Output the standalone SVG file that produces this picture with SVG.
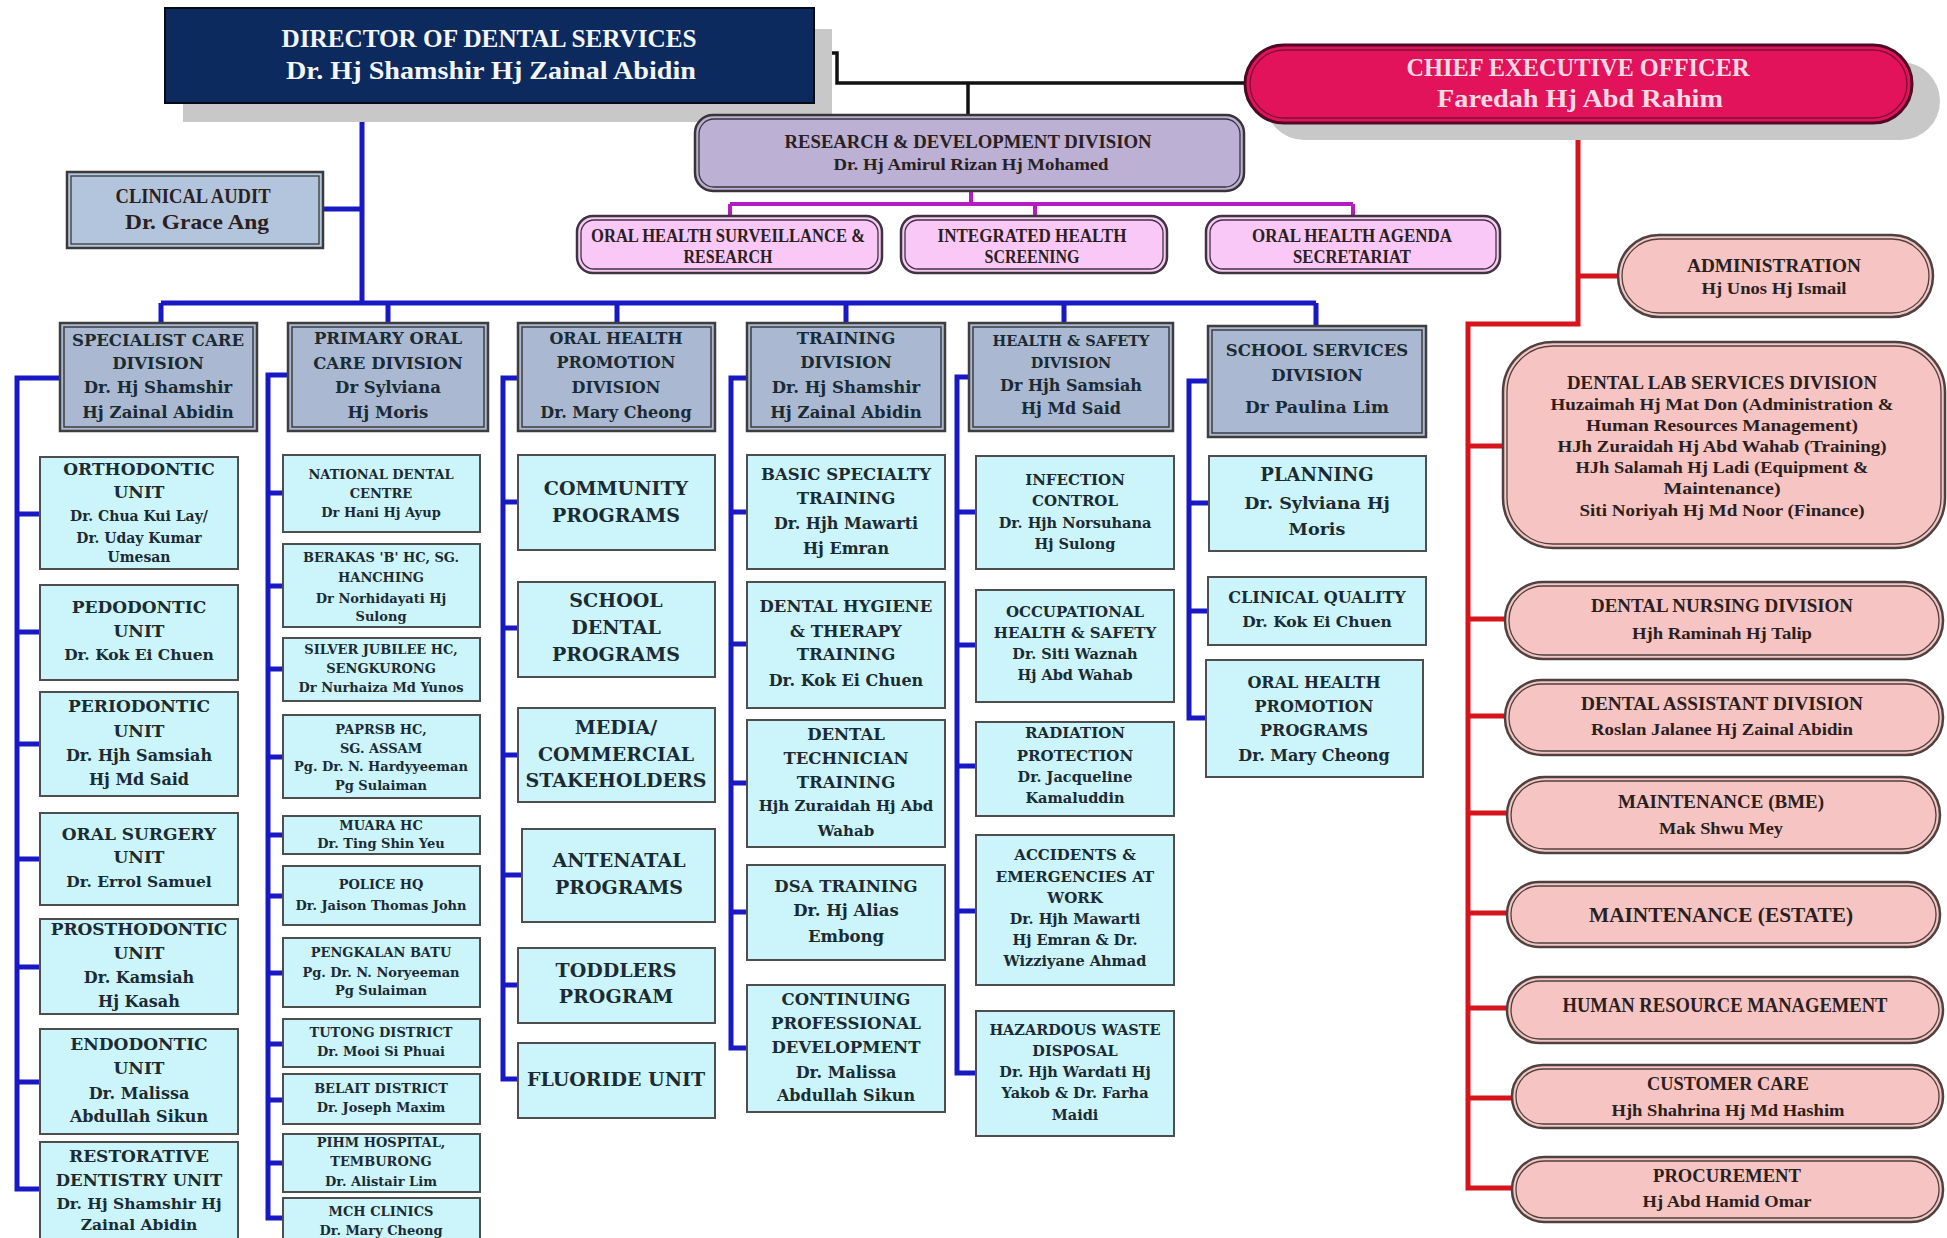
<svg xmlns="http://www.w3.org/2000/svg" width="1947" height="1238" viewBox="0 0 1947 1238">
<style>
.blue{stroke:#1818c4;stroke-width:5;fill:none}
.red{stroke:#d6141c;stroke-width:5;fill:none}
.mag{stroke:#b21cc0;stroke-width:4;fill:none}
.blk{stroke:#111;stroke-width:3.5;fill:none}
.dv{fill:#aab9d1;stroke:#3e3e3e;stroke-width:2.5}
.dvi{fill:none;stroke:#3e3e3e;stroke-width:1.5}
.u{fill:#ccf5fb;stroke:#4e4e4e;stroke-width:2}
.pk{fill:#f6c5c3;stroke:#4e4240;stroke-width:2.5}
.pki{fill:none;stroke:#4e4240;stroke-width:1.3}
.pm{fill:#f9c8f6;stroke:#3e3440;stroke-width:2.5}
.pmi{fill:none;stroke:#3e3440;stroke-width:1.3}
.sh{fill:#c8c8c8}
text{font-weight:bold;text-anchor:middle}
.t{font-family:"DejaVu Serif",serif;fill:#1b2a33}
.s{font-family:"Liberation Serif","Times New Roman",serif;fill:#2a2020}
.w{font-family:"Liberation Serif","Times New Roman",serif;fill:#f4f6fa}
.cw{font-family:"Liberation Serif","Times New Roman",serif;fill:#fcdbe4}
</style>
<rect width="1947" height="1238" fill="#ffffff"/>

<g id="connectors">
  <path class="blk" d="M814,53 H837 V83 H1245 M968,83 V115"/>
  <path class="blue" d="M362,103 V303 M323,209 H362 M161,303 H1316 M161,303 V323 M388,303 V323 M617,303 V323 M846,303 V323 M1064,303 V323 M1316,303 V326"/>
  <path class="mag" d="M971,191 V204 M730,204 H1353 M730,204 V216 M1035,204 V216 M1353,204 V216"/>
  <path class="blue" d="M60,378 H17 V1189 H40 M17,514 H40 M17,632 H40 M17,744 H40 M17,859 H40 M17,967 H40 M17,1082 H40"/>
  <path class="blue" d="M288,375 H268 V1218 H283 M268,493 H283 M268,586 H283 M268,669 H283 M268,757 H283 M268,835 H283 M268,896 H283 M268,973 H283 M268,1044 H283 M268,1100 H283 M268,1163 H283"/>
  <path class="blue" d="M518,378 H503 V1079 H518 M503,502 H518 M503,628 H518 M503,755 H518 M503,875 H522 M503,985 H518"/>
  <path class="blue" d="M747,378 H731 V1048 H747 M731,512 H747 M731,644 H747 M731,783 H747 M731,912 H747"/>
  <path class="blue" d="M969,377 H957 V1073 H976 M957,512 H976 M957,645 H976 M957,766 H976 M957,911 H976"/>
  <path class="blue" d="M1208,381 H1189 V718 H1206 M1189,503 H1209 M1189,611 H1208"/>
  <path class="red" d="M1578,123 V324 H1468 V1188 H1512 M1578,276 H1618 M1468,446 H1503 M1468,619 H1505 M1468,716 H1505 M1468,813 H1507 M1468,913 H1507 M1468,1008 H1507 M1468,1098 H1512"/>
</g>

<g id="director">
  <rect class="sh" x="183" y="29" width="649" height="93"/>
  <rect x="165" y="8" width="649" height="95" fill="#0c2a5d" stroke="#050a18" stroke-width="2"/>
  <text class="w" x="489" y="47" font-size="26" textLength="415" lengthAdjust="spacingAndGlyphs">DIRECTOR OF DENTAL SERVICES</text>
  <text class="w" x="491" y="79" font-size="26" textLength="410" lengthAdjust="spacingAndGlyphs">Dr. Hj Shamshir Hj Zainal Abidin</text>
</g>

<g id="ceo">
  <rect class="sh" x="1265" y="62" width="675" height="78" rx="39"/>
  <rect x="1245" y="45" width="667" height="78" rx="39" fill="#e2135a" stroke="#4e0a22" stroke-width="3"/>
  <rect x="1250" y="50" width="657" height="68" rx="34" fill="none" stroke="#7a1236" stroke-width="1.3"/>
  <text class="cw" x="1578" y="76" font-size="26" textLength="343" lengthAdjust="spacingAndGlyphs">CHIEF EXECUTIVE OFFICER</text>
  <text class="cw" x="1580" y="107" font-size="26" textLength="286" lengthAdjust="spacingAndGlyphs">Faredah Hj Abd Rahim</text>
</g>

<g id="clinical-audit">
  <rect x="67" y="172" width="256" height="76" fill="#b3c4dd" stroke="#3a3a3a" stroke-width="2.5"/>
  <rect x="71" y="176" width="248" height="68" fill="none" stroke="#3a3a3a" stroke-width="1.3"/>
  <text class="s" x="193" y="203" font-size="22" textLength="155" lengthAdjust="spacingAndGlyphs" fill="#1b2a33">CLINICAL AUDIT</text>
  <text class="s" x="197" y="229" font-size="22" textLength="144" lengthAdjust="spacingAndGlyphs" fill="#1b2a33">Dr. Grace Ang</text>
</g>

<g id="rnd">
  <rect x="695" y="115" width="549" height="76" rx="18" fill="#bcb0d4" stroke="#383438" stroke-width="2.5"/>
  <rect x="699" y="119" width="541" height="68" rx="15" fill="none" stroke="#383438" stroke-width="1.3"/>
  <text class="s" x="968" y="148" font-size="18" textLength="367" lengthAdjust="spacingAndGlyphs">RESEARCH &amp; DEVELOPMENT DIVISION</text>
  <text class="s" x="971" y="170" font-size="16" textLength="275" lengthAdjust="spacingAndGlyphs">Dr. Hj Amirul Rizan Hj Mohamed</text>
</g>

<g id="oh-surveillance">
  <rect class="pm" x="577" y="216" width="305" height="57" rx="16"/>
  <rect class="pmi" x="581" y="220" width="297" height="49" rx="13"/>
  <text class="s" x="728" y="242" font-size="18" textLength="274" lengthAdjust="spacingAndGlyphs">ORAL HEALTH SURVEILLANCE &amp;</text>
  <text class="s" x="728" y="263" font-size="18" textLength="89" lengthAdjust="spacingAndGlyphs">RESEARCH</text>
</g>
<g id="integrated-screening">
  <rect class="pm" x="901" y="216" width="266" height="57" rx="16"/>
  <rect class="pmi" x="905" y="220" width="258" height="49" rx="13"/>
  <text class="s" x="1032" y="242" font-size="18" textLength="189" lengthAdjust="spacingAndGlyphs">INTEGRATED HEALTH</text>
  <text class="s" x="1032" y="263" font-size="18" textLength="95" lengthAdjust="spacingAndGlyphs">SCREENING</text>
</g>
<g id="oh-agenda">
  <rect class="pm" x="1206" y="216" width="294" height="57" rx="16"/>
  <rect class="pmi" x="1210" y="220" width="286" height="49" rx="13"/>
  <text class="s" x="1352" y="242" font-size="18" textLength="200" lengthAdjust="spacingAndGlyphs">ORAL HEALTH AGENDA</text>
  <text class="s" x="1352" y="263" font-size="18" textLength="118" lengthAdjust="spacingAndGlyphs">SECRETARIAT</text>
</g>

<!-- Division boxes -->
<g id="div-specialist">
  <rect class="dv" x="60" y="323" width="197" height="108"/><rect class="dvi" x="64" y="327" width="189" height="100"/>
  <text class="t" font-size="16.5" x="158" y="346">SPECIALIST CARE</text>
  <text class="t" font-size="16.5" x="158" y="369">DIVISION</text>
  <text class="t" font-size="16.5" x="158" y="393">Dr. Hj Shamshir</text>
  <text class="t" font-size="16.5" x="158" y="418">Hj Zainal Abidin</text>
</g>
<g id="div-primary">
  <rect class="dv" x="288" y="323" width="200" height="108"/><rect class="dvi" x="292" y="327" width="192" height="100"/>
  <text class="t" font-size="16.5" x="388" y="344">PRIMARY ORAL</text>
  <text class="t" font-size="16.5" x="388" y="369">CARE DIVISION</text>
  <text class="t" font-size="16.5" x="388" y="393">Dr Sylviana</text>
  <text class="t" font-size="16.5" x="388" y="418">Hj Moris</text>
</g>
<g id="div-ohp">
  <rect class="dv" x="518" y="323" width="197" height="108"/><rect class="dvi" x="522" y="327" width="189" height="100"/>
  <text class="t" font-size="16" x="616" y="344">ORAL HEALTH</text>
  <text class="t" font-size="16" x="616" y="368">PROMOTION</text>
  <text class="t" font-size="16" x="616" y="393">DIVISION</text>
  <text class="t" font-size="16" x="616" y="418">Dr. Mary Cheong</text>
</g>
<g id="div-training">
  <rect class="dv" x="747" y="323" width="198" height="108"/><rect class="dvi" x="751" y="327" width="190" height="100"/>
  <text class="t" font-size="16.5" x="846" y="344">TRAINING</text>
  <text class="t" font-size="16.5" x="846" y="368">DIVISION</text>
  <text class="t" font-size="16.5" x="846" y="393">Dr. Hj Shamshir</text>
  <text class="t" font-size="16.5" x="846" y="418">Hj Zainal Abidin</text>
</g>
<g id="div-health-safety">
  <rect class="dv" x="969" y="323" width="204" height="108"/><rect class="dvi" x="973" y="327" width="196" height="100"/>
  <text class="t" font-size="14.5" x="1071" y="346">HEALTH &amp; SAFETY</text>
  <text class="t" font-size="14.5" x="1071" y="368">DIVISION</text>
  <text class="t" font-size="16" x="1071" y="391">Dr Hjh Samsiah</text>
  <text class="t" font-size="16" x="1071" y="414">Hj Md Said</text>
</g>
<g id="div-school">
  <rect class="dv" x="1208" y="326" width="218" height="111"/><rect class="dvi" x="1212" y="330" width="210" height="103"/>
  <text class="t" font-size="16.5" x="1317" y="356">SCHOOL SERVICES</text>
  <text class="t" font-size="16.5" x="1317" y="381">DIVISION</text>
  <text class="t" font-size="17" x="1317" y="413">Dr Paulina Lim</text>
</g>

<!-- Specialist units -->
<g id="orthodontic">
  <rect class="u" x="40" y="457" width="198" height="112"/>
  <text class="t" font-size="17" x="139" y="475">ORTHODONTIC</text>
  <text class="t" font-size="17" x="139" y="498">UNIT</text>
  <text class="t" font-size="14" x="139" y="521">Dr. Chua Kui Lay/</text>
  <text class="t" font-size="14" x="139" y="543">Dr. Uday Kumar</text>
  <text class="t" font-size="14" x="139" y="562">Umesan</text>
</g>
<g id="pedodontic">
  <rect class="u" x="40" y="585" width="198" height="95"/>
  <text class="t" font-size="17" x="139" y="613">PEDODONTIC</text>
  <text class="t" font-size="17" x="139" y="637">UNIT</text>
  <text class="t" font-size="15.5" x="139" y="660">Dr. Kok Ei Chuen</text>
</g>
<g id="periodontic">
  <rect class="u" x="40" y="692" width="198" height="104"/>
  <text class="t" font-size="17" x="139" y="712">PERIODONTIC</text>
  <text class="t" font-size="17" x="139" y="737">UNIT</text>
  <text class="t" font-size="16" x="139" y="761">Dr. Hjh Samsiah</text>
  <text class="t" font-size="16" x="139" y="785">Hj Md Said</text>
</g>
<g id="oral-surgery">
  <rect class="u" x="40" y="813" width="198" height="92"/>
  <text class="t" font-size="17" x="139" y="840">ORAL SURGERY</text>
  <text class="t" font-size="17" x="139" y="863">UNIT</text>
  <text class="t" font-size="15.5" x="139" y="887">Dr. Errol Samuel</text>
</g>
<g id="prosthodontic">
  <rect class="u" x="40" y="919" width="198" height="95"/>
  <text class="t" font-size="17" x="139" y="935">PROSTHODONTIC</text>
  <text class="t" font-size="17" x="139" y="959">UNIT</text>
  <text class="t" font-size="16" x="139" y="983">Dr. Kamsiah</text>
  <text class="t" font-size="16" x="139" y="1007">Hj Kasah</text>
</g>
<g id="endodontic">
  <rect class="u" x="40" y="1029" width="198" height="105"/>
  <text class="t" font-size="17" x="139" y="1050">ENDODONTIC</text>
  <text class="t" font-size="17" x="139" y="1074">UNIT</text>
  <text class="t" font-size="16" x="139" y="1099">Dr. Malissa</text>
  <text class="t" font-size="16" x="139" y="1122">Abdullah Sikun</text>
</g>
<g id="restorative">
  <rect class="u" x="40" y="1142" width="198" height="102"/>
  <text class="t" font-size="17" x="139" y="1162">RESTORATIVE</text>
  <text class="t" font-size="16.5" x="139" y="1186">DENTISTRY UNIT</text>
  <text class="t" font-size="15.5" x="139" y="1209">Dr. Hj Shamshir Hj</text>
  <text class="t" font-size="15.5" x="139" y="1230">Zainal Abidin</text>
</g>

<!-- Primary units -->
<g id="national-dental-centre">
  <rect class="u" x="283" y="455" width="197" height="77"/>
  <text class="t" font-size="13" x="381" y="479">NATIONAL DENTAL</text>
  <text class="t" font-size="13" x="381" y="498">CENTRE</text>
  <text class="t" font-size="13" x="381" y="517">Dr Hani Hj Ayup</text>
</g>
<g id="berakas">
  <rect class="u" x="283" y="544" width="197" height="83"/>
  <text class="t" font-size="13" x="381" y="562">BERAKAS 'B' HC, SG.</text>
  <text class="t" font-size="13" x="381" y="582">HANCHING</text>
  <text class="t" font-size="13" x="381" y="603">Dr Norhidayati Hj</text>
  <text class="t" font-size="13" x="381" y="621">Sulong</text>
</g>
<g id="silver-jubilee">
  <rect class="u" x="283" y="638" width="197" height="63"/>
  <text class="t" font-size="13" x="381" y="654">SILVER JUBILEE HC,</text>
  <text class="t" font-size="13" x="381" y="673">SENGKURONG</text>
  <text class="t" font-size="13" x="381" y="692">Dr Nurhaiza Md Yunos</text>
</g>
<g id="paprsb">
  <rect class="u" x="283" y="715" width="197" height="83"/>
  <text class="t" font-size="13" x="381" y="734">PAPRSB HC,</text>
  <text class="t" font-size="13" x="381" y="753">SG. ASSAM</text>
  <text class="t" font-size="13" x="381" y="771">Pg. Dr. N. Hardyyeeman</text>
  <text class="t" font-size="13" x="381" y="790">Pg Sulaiman</text>
</g>
<g id="muara">
  <rect class="u" x="283" y="816" width="197" height="38"/>
  <text class="t" font-size="13" x="381" y="830">MUARA HC</text>
  <text class="t" font-size="13" x="381" y="848">Dr. Ting Shin Yeu</text>
</g>
<g id="police-hq">
  <rect class="u" x="283" y="866" width="197" height="59"/>
  <text class="t" font-size="13" x="381" y="889">POLICE HQ</text>
  <text class="t" font-size="13" x="381" y="910">Dr. Jaison Thomas John</text>
</g>
<g id="pengkalan-batu">
  <rect class="u" x="283" y="938" width="197" height="69"/>
  <text class="t" font-size="13" x="381" y="957">PENGKALAN BATU</text>
  <text class="t" font-size="13" x="381" y="977">Pg. Dr. N. Noryeeman</text>
  <text class="t" font-size="13" x="381" y="995">Pg Sulaiman</text>
</g>
<g id="tutong">
  <rect class="u" x="283" y="1019" width="197" height="48"/>
  <text class="t" font-size="13" x="381" y="1037">TUTONG DISTRICT</text>
  <text class="t" font-size="13" x="381" y="1056">Dr. Mooi Si Phuai</text>
</g>
<g id="belait">
  <rect class="u" x="283" y="1074" width="197" height="50"/>
  <text class="t" font-size="13" x="381" y="1093">BELAIT DISTRICT</text>
  <text class="t" font-size="13" x="381" y="1112">Dr. Joseph Maxim</text>
</g>
<g id="pihm">
  <rect class="u" x="283" y="1134" width="197" height="58"/>
  <text class="t" font-size="13" x="381" y="1147">PIHM HOSPITAL,</text>
  <text class="t" font-size="13" x="381" y="1166">TEMBURONG</text>
  <text class="t" font-size="13" x="381" y="1186">Dr. Alistair Lim</text>
</g>
<g id="mch-clinics">
  <rect class="u" x="283" y="1198" width="197" height="48"/>
  <text class="t" font-size="13" x="381" y="1216">MCH CLINICS</text>
  <text class="t" font-size="13" x="381" y="1235">Dr. Mary Cheong</text>
</g>

<!-- OHP units -->
<g id="community">
  <rect class="u" x="518" y="455" width="197" height="95"/>
  <text class="t" font-size="19" x="616" y="495">COMMUNITY</text>
  <text class="t" font-size="19" x="616" y="522">PROGRAMS</text>
</g>
<g id="school-dental">
  <rect class="u" x="518" y="582" width="197" height="95"/>
  <text class="t" font-size="19" x="616" y="607">SCHOOL</text>
  <text class="t" font-size="19" x="616" y="634">DENTAL</text>
  <text class="t" font-size="19" x="616" y="661">PROGRAMS</text>
</g>
<g id="media">
  <rect class="u" x="518" y="708" width="197" height="94"/>
  <text class="t" font-size="19" x="616" y="734">MEDIA/</text>
  <text class="t" font-size="19" x="616" y="761">COMMERCIAL</text>
  <text class="t" font-size="19" x="616" y="787">STAKEHOLDERS</text>
</g>
<g id="antenatal">
  <rect class="u" x="522" y="829" width="193" height="93"/>
  <text class="t" font-size="19" x="619" y="867">ANTENATAL</text>
  <text class="t" font-size="19" x="619" y="894">PROGRAMS</text>
</g>
<g id="toddlers">
  <rect class="u" x="518" y="948" width="197" height="75"/>
  <text class="t" font-size="19" x="616" y="977">TODDLERS</text>
  <text class="t" font-size="19" x="616" y="1003">PROGRAM</text>
</g>
<g id="fluoride">
  <rect class="u" x="518" y="1043" width="197" height="75"/>
  <text class="t" font-size="19" x="616" y="1086">FLUORIDE UNIT</text>
</g>

<!-- Training units -->
<g id="basic-specialty">
  <rect class="u" x="747" y="455" width="198" height="114"/>
  <text class="t" font-size="16.5" x="846" y="480">BASIC SPECIALTY</text>
  <text class="t" font-size="16.5" x="846" y="504">TRAINING</text>
  <text class="t" font-size="16" x="846" y="529">Dr. Hjh Mawarti</text>
  <text class="t" font-size="16" x="846" y="554">Hj Emran</text>
</g>
<g id="dental-hygiene">
  <rect class="u" x="747" y="582" width="198" height="126"/>
  <text class="t" font-size="16.5" x="846" y="612">DENTAL HYGIENE</text>
  <text class="t" font-size="16.5" x="846" y="637">&amp; THERAPY</text>
  <text class="t" font-size="16.5" x="846" y="660">TRAINING</text>
  <text class="t" font-size="16" x="846" y="686">Dr. Kok Ei Chuen</text>
</g>
<g id="dental-technician">
  <rect class="u" x="747" y="720" width="198" height="127"/>
  <text class="t" font-size="16.5" x="846" y="740">DENTAL</text>
  <text class="t" font-size="16.5" x="846" y="764">TECHNICIAN</text>
  <text class="t" font-size="16.5" x="846" y="788">TRAINING</text>
  <text class="t" font-size="15" x="846" y="811">Hjh Zuraidah Hj Abd</text>
  <text class="t" font-size="15" x="846" y="836">Wahab</text>
</g>
<g id="dsa-training">
  <rect class="u" x="747" y="865" width="198" height="95"/>
  <text class="t" font-size="16.5" x="846" y="892">DSA TRAINING</text>
  <text class="t" font-size="16.5" x="846" y="916">Dr. Hj Alias</text>
  <text class="t" font-size="16.5" x="846" y="942">Embong</text>
</g>
<g id="cpd">
  <rect class="u" x="747" y="985" width="198" height="127"/>
  <text class="t" font-size="16.5" x="846" y="1005">CONTINUING</text>
  <text class="t" font-size="16.5" x="846" y="1029">PROFESSIONAL</text>
  <text class="t" font-size="16.5" x="846" y="1053">DEVELOPMENT</text>
  <text class="t" font-size="16" x="846" y="1078">Dr. Malissa</text>
  <text class="t" font-size="16" x="846" y="1101">Abdullah Sikun</text>
</g>

<!-- Health & Safety units -->
<g id="infection-control">
  <rect class="u" x="976" y="456" width="198" height="113"/>
  <text class="t" font-size="15" x="1075" y="485">INFECTION</text>
  <text class="t" font-size="15" x="1075" y="506">CONTROL</text>
  <text class="t" font-size="14.5" x="1075" y="528">Dr. Hjh Norsuhana</text>
  <text class="t" font-size="14.5" x="1075" y="549">Hj Sulong</text>
</g>
<g id="occupational">
  <rect class="u" x="976" y="590" width="198" height="112"/>
  <text class="t" font-size="15" x="1075" y="617">OCCUPATIONAL</text>
  <text class="t" font-size="15" x="1075" y="638">HEALTH &amp; SAFETY</text>
  <text class="t" font-size="14.5" x="1075" y="659">Dr. Siti Waznah</text>
  <text class="t" font-size="14.5" x="1075" y="680">Hj Abd Wahab</text>
</g>
<g id="radiation">
  <rect class="u" x="976" y="722" width="198" height="94"/>
  <text class="t" font-size="15" x="1075" y="738">RADIATION</text>
  <text class="t" font-size="15" x="1075" y="761">PROTECTION</text>
  <text class="t" font-size="14.5" x="1075" y="782">Dr. Jacqueline</text>
  <text class="t" font-size="14.5" x="1075" y="803">Kamaluddin</text>
</g>
<g id="accidents">
  <rect class="u" x="976" y="835" width="198" height="150"/>
  <text class="t" font-size="15" x="1075" y="860">ACCIDENTS &amp;</text>
  <text class="t" font-size="15" x="1075" y="882">EMERGENCIES AT</text>
  <text class="t" font-size="15" x="1075" y="903">WORK</text>
  <text class="t" font-size="14.5" x="1075" y="924">Dr. Hjh Mawarti</text>
  <text class="t" font-size="14.5" x="1075" y="945">Hj Emran &amp; Dr.</text>
  <text class="t" font-size="14.5" x="1075" y="966">Wizziyane Ahmad</text>
</g>
<g id="hazardous-waste">
  <rect class="u" x="976" y="1011" width="198" height="125"/>
  <text class="t" font-size="14.5" x="1075" y="1035">HAZARDOUS WASTE</text>
  <text class="t" font-size="14.5" x="1075" y="1056">DISPOSAL</text>
  <text class="t" font-size="14.5" x="1075" y="1077">Dr. Hjh Wardati Hj</text>
  <text class="t" font-size="14.5" x="1075" y="1098">Yakob &amp; Dr. Farha</text>
  <text class="t" font-size="14.5" x="1075" y="1120">Maidi</text>
</g>

<!-- School units -->
<g id="planning">
  <rect class="u" x="1209" y="456" width="217" height="95"/>
  <text class="t" font-size="18" x="1317" y="481">PLANNING</text>
  <text class="t" font-size="17.5" x="1317" y="509">Dr. Sylviana Hj</text>
  <text class="t" font-size="17.5" x="1317" y="535">Moris</text>
</g>
<g id="clinical-quality">
  <rect class="u" x="1208" y="577" width="218" height="68"/>
  <text class="t" font-size="16" x="1317" y="603">CLINICAL QUALITY</text>
  <text class="t" font-size="15.5" x="1317" y="627">Dr. Kok Ei Chuen</text>
</g>
<g id="ohp-programs">
  <rect class="u" x="1206" y="660" width="217" height="117"/>
  <text class="t" font-size="16" x="1314" y="688">ORAL HEALTH</text>
  <text class="t" font-size="16" x="1314" y="712">PROMOTION</text>
  <text class="t" font-size="16" x="1314" y="736">PROGRAMS</text>
  <text class="t" font-size="16" x="1314" y="761">Dr. Mary Cheong</text>
</g>

<!-- CEO units -->
<g id="administration">
  <rect class="pk" x="1618" y="235" width="315" height="82" rx="41"/><rect class="pki" x="1622" y="239" width="307" height="74" rx="37"/>
  <text class="s" x="1774" y="272" font-size="19" textLength="174" lengthAdjust="spacingAndGlyphs">ADMINISTRATION</text>
  <text class="s" x="1774" y="294" font-size="16" textLength="145" lengthAdjust="spacingAndGlyphs">Hj Unos Hj Ismail</text>
</g>
<g id="dental-lab">
  <rect class="pk" x="1503" y="342" width="442" height="206" rx="50"/><rect class="pki" x="1507" y="346" width="434" height="198" rx="46"/>
  <text class="s" x="1722" y="389" font-size="19" textLength="310" lengthAdjust="spacingAndGlyphs">DENTAL LAB SERVICES DIVISION</text>
  <text class="s" x="1722" y="410" font-size="16" textLength="343" lengthAdjust="spacingAndGlyphs">Huzaimah Hj Mat Don (Administration &amp;</text>
  <text class="s" x="1722" y="431" font-size="16" textLength="272" lengthAdjust="spacingAndGlyphs">Human Resources Management)</text>
  <text class="s" x="1722" y="452" font-size="16" textLength="329" lengthAdjust="spacingAndGlyphs">HJh Zuraidah Hj Abd Wahab (Training)</text>
  <text class="s" x="1722" y="473" font-size="16" textLength="293" lengthAdjust="spacingAndGlyphs">HJh Salamah Hj Ladi (Equipment &amp;</text>
  <text class="s" x="1722" y="494" font-size="16" textLength="117" lengthAdjust="spacingAndGlyphs">Maintenance)</text>
  <text class="s" x="1722" y="516" font-size="16" textLength="285" lengthAdjust="spacingAndGlyphs">Siti Noriyah Hj Md Noor (Finance)</text>
</g>
<g id="dental-nursing">
  <rect class="pk" x="1505" y="582" width="438" height="77" rx="38"/><rect class="pki" x="1509" y="586" width="430" height="69" rx="34"/>
  <text class="s" x="1722" y="612" font-size="19" textLength="262" lengthAdjust="spacingAndGlyphs">DENTAL NURSING DIVISION</text>
  <text class="s" x="1722" y="639" font-size="16" textLength="180" lengthAdjust="spacingAndGlyphs">Hjh Raminah Hj Talip</text>
</g>
<g id="dental-assistant">
  <rect class="pk" x="1505" y="680" width="438" height="75" rx="37"/><rect class="pki" x="1509" y="684" width="430" height="67" rx="33"/>
  <text class="s" x="1722" y="710" font-size="19" textLength="282" lengthAdjust="spacingAndGlyphs">DENTAL ASSISTANT DIVISION</text>
  <text class="s" x="1722" y="735" font-size="16" textLength="262" lengthAdjust="spacingAndGlyphs">Roslan Jalanee Hj Zainal Abidin</text>
</g>
<g id="maintenance-bme">
  <rect class="pk" x="1507" y="777" width="433" height="76" rx="38"/><rect class="pki" x="1511" y="781" width="425" height="68" rx="34"/>
  <text class="s" x="1721" y="808" font-size="19" textLength="206" lengthAdjust="spacingAndGlyphs">MAINTENANCE (BME)</text>
  <text class="s" x="1721" y="834" font-size="16" textLength="124" lengthAdjust="spacingAndGlyphs">Mak Shwu Mey</text>
</g>
<g id="maintenance-estate">
  <rect class="pk" x="1507" y="882" width="433" height="65" rx="32"/><rect class="pki" x="1511" y="886" width="425" height="57" rx="28"/>
  <text class="s" x="1721" y="922" font-size="21" textLength="264" lengthAdjust="spacingAndGlyphs">MAINTENANCE (ESTATE)</text>
</g>
<g id="hrm">
  <rect class="pk" x="1507" y="977" width="436" height="66" rx="33"/><rect class="pki" x="1511" y="981" width="428" height="58" rx="29"/>
  <text class="s" x="1725" y="1012" font-size="20" textLength="325" lengthAdjust="spacingAndGlyphs">HUMAN RESOURCE MANAGEMENT</text>
</g>
<g id="customer-care">
  <rect class="pk" x="1512" y="1065" width="431" height="63" rx="31"/><rect class="pki" x="1516" y="1069" width="423" height="55" rx="27"/>
  <text class="s" x="1728" y="1090" font-size="19" textLength="162" lengthAdjust="spacingAndGlyphs">CUSTOMER CARE</text>
  <text class="s" x="1728" y="1116" font-size="16" textLength="233" lengthAdjust="spacingAndGlyphs">Hjh Shahrina Hj Md Hashim</text>
</g>
<g id="procurement">
  <rect class="pk" x="1512" y="1157" width="431" height="65" rx="32"/><rect class="pki" x="1516" y="1161" width="423" height="57" rx="28"/>
  <text class="s" x="1727" y="1182" font-size="19" textLength="148" lengthAdjust="spacingAndGlyphs">PROCUREMENT</text>
  <text class="s" x="1727" y="1207" font-size="16" textLength="169" lengthAdjust="spacingAndGlyphs">Hj Abd Hamid Omar</text>
</g>
</svg>
